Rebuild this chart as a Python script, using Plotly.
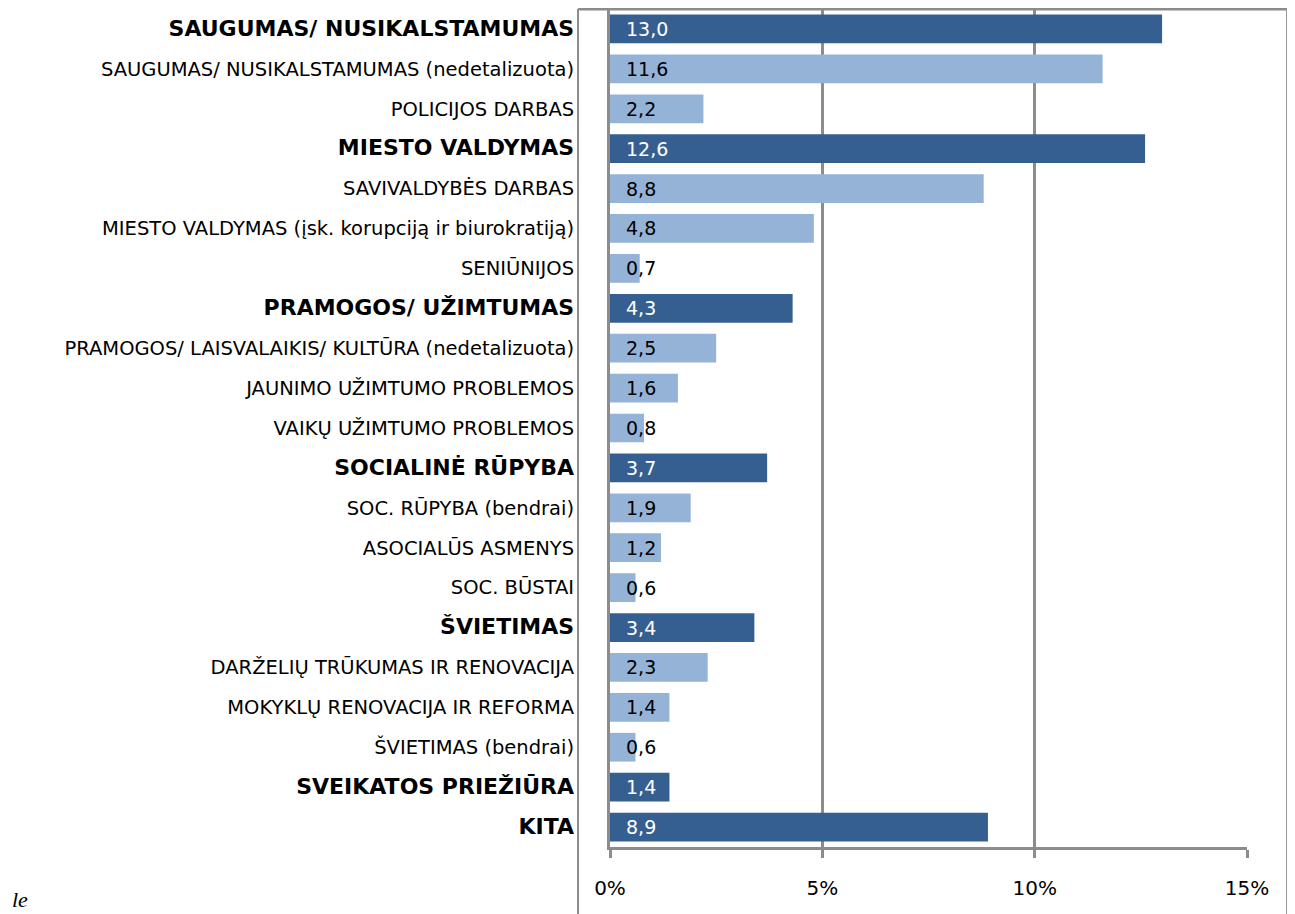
import plotly.graph_objects as go

categories = [
    "SAUGUMAS/ NUSIKALSTAMUMAS",
    "SAUGUMAS/ NUSIKALSTAMUMAS (nedetalizuota)",
    "POLICIJOS DARBAS",
    "MIESTO VALDYMAS",
    "SAVIVALDYBĖS DARBAS",
    "MIESTO VALDYMAS (įsk. korupciją ir biurokratiją)",
    "SENIŪNIJOS",
    "PRAMOGOS/ UŽIMTUMAS",
    "PRAMOGOS/ LAISVALAIKIS/ KULTŪRA (nedetalizuota)",
    "JAUNIMO UŽIMTUMO PROBLEMOS",
    "VAIKŲ UŽIMTUMO PROBLEMOS",
    "SOCIALINĖ RŪPYBA",
    "SOC. RŪPYBA (bendrai)",
    "ASOCIALŪS ASMENYS",
    "SOC. BŪSTAI",
    "ŠVIETIMAS",
    "DARŽELIŲ TRŪKUMAS IR RENOVACIJA",
    "MOKYKLŲ RENOVACIJA IR REFORMA",
    "ŠVIETIMAS (bendrai)",
    "SVEIKATOS PRIEŽIŪRA",
    "KITA",
]
values = [13.0, 11.6, 2.2, 12.6, 8.8, 4.8, 0.7, 4.3, 2.5, 1.6, 0.8, 3.7,
          1.9, 1.2, 0.6, 3.4, 2.3, 1.4, 0.6, 1.4, 8.9]
is_group = [1, 0, 0, 1, 0, 0, 0, 1, 0, 0, 0, 1, 0, 0, 0, 1, 0, 0, 0, 1, 1]
x_ticks = [0, 5, 10, 15]

DARK = "#365F91"
LIGHT = "#95B3D7"
GRID = "#8C8C8C"
FONT = "DejaVu Sans"

ypos = list(range(len(categories)))
colors = [DARK if g else LIGHT for g in is_group]
ticktext = [f'<b><span style="font-size:22px">{c}</span></b>' if g else c
            for c, g in zip(categories, is_group)]

fig = go.Figure()
fig.add_trace(go.Bar(
    x=values, y=ypos, orientation="h",
    marker=dict(color=colors, line=dict(width=0)),
    width=0.72, hoverinfo="skip",
))

for v, y, g in zip(values, ypos, is_group):
    fig.add_annotation(
        x=0, y=y, xref="x", yref="y", xanchor="left", yanchor="middle",
        xshift=14, showarrow=False,
        text=f"{v:.1f}".replace(".", ","),
        font=dict(family=FONT, size=19, color="white" if g else "black"),
    )

# frame lines of the outer chart area
fig.add_shape(type="line", xref="paper", yref="paper",
              x0=-0.0502, x1=1.068, y0=1.0, y1=1.0,
              line=dict(color=GRID, width=3))
fig.add_shape(type="line", xref="paper", yref="paper",
              x0=-0.0502, x1=-0.0502, y0=1.0, y1=-0.2,
              line=dict(color=GRID, width=2))
fig.add_shape(type="line", xref="paper", yref="paper",
              x0=1.0628, x1=1.0628, y0=1.0, y1=-0.2,
              line=dict(color="#9A9A9A", width=2))

fig.add_annotation(x=-0.942, y=-0.063, xref="paper", yref="paper",
                   xanchor="left", yanchor="middle", showarrow=False,
                   text="<i>le</i>",
                   font=dict(family="Liberation Serif", size=22, color="black"))

fig.update_layout(
    width=1295, height=914,
    margin=dict(l=602, r=56, t=1, b=75, autoexpand=False),
    paper_bgcolor="white", plot_bgcolor="white",
    showlegend=False,
    xaxis=dict(
        range=[0, 15], tickvals=x_ticks,
        ticktext=[f"{t}%" for t in x_ticks],
        showgrid=True, gridcolor=GRID, gridwidth=3,
        showline=True, linecolor=GRID, linewidth=3,
        ticks="outside", ticklen=8, tickwidth=3, tickcolor=GRID,
        zeroline=False, ticklabelstandoff=13,
        tickfont=dict(family=FONT, size=20, color="black"),
    ),
    yaxis=dict(
        tickvals=ypos, ticktext=ticktext,
        range=[len(categories) - 0.5, -0.5],
        showgrid=False, zeroline=False,
        showline=True, linecolor=GRID, linewidth=3,
        ticks="", ticklabelstandoff=29,
        tickfont=dict(family=FONT, size=19.5, color="black"),
    ),
)

fig.write_html("out.html")
